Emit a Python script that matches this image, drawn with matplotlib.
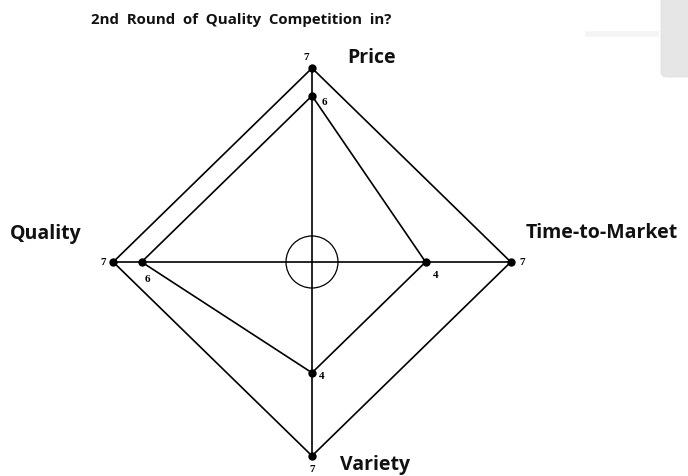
import numpy as np
import matplotlib
matplotlib.use("Agg")
import matplotlib.pyplot as plt
from matplotlib.patches import Ellipse, FancyBboxPatch

# ---- data ----
AXES = ["Price", "Time-to-Market", "Variety", "Quality"]
OUTER = [7, 7, 7, 7]
INNER = [6, 4, 4, 6]
TITLE = "2nd  Round  of  Quality  Competition  in?"

W, H = 688, 477
CX, CY = 312, 263      # centre in pixels
SX, SY = 28.4, 27.7    # pixels per unit

fig = plt.figure(figsize=(W / 100, H / 100), dpi=100)
ax = fig.add_axes([0, 0, 1, 1])
ax.set_xlim(-CX / SX, (W - CX) / SX)
ax.set_ylim(-(H - CY) / SY, CY / SY)
ax.axis("off")

# direction of each axis (up, right, down, left)
dirs = np.array([[0, 1], [1, 0], [0, -1], [-1, 0]])

def pts(vals):
    v = np.asarray(vals, float)[:, None]
    return dirs * v

out = pts(OUTER)
inn = pts(INNER)

kw = dict(color="black", lw=1.2)
# cross axes
ax.plot([out[3, 0], out[1, 0]], [0, 0], **kw)
ax.plot([0, 0], [out[2, 1], out[0, 1]], **kw)
# polygons
ax.plot(np.r_[out[:, 0], out[0, 0]], np.r_[out[:, 1], out[0, 1]], **kw)
ax.plot(np.r_[inn[:, 0], inn[0, 0]], np.r_[inn[:, 1], inn[0, 1]], **kw)
ax.plot(out[:, 0], out[:, 1], "o", color="black", ms=5)
ax.plot(inn[:, 0], inn[:, 1], "o", color="black", ms=5)

# small centre ring (~26 px radius)
ax.add_patch(Ellipse((0, 0), 2 * 26 / SX, 2 * 26 / SY,
                     fill=False, color="black", lw=0.9))

# value labels (offsets in points)
num = dict(family="Liberation Serif", weight="bold", fontsize=8, color="black")
out_off = [(-4, 8), (8, 0), (0, -9), (-7, 0)]
inn_off = [(9, -4), (7, -9), (7, -2), (4, -12)]
for p, v, o in zip(out, OUTER, out_off):
    ax.annotate(str(v), p, xytext=o, textcoords="offset points",
                ha="center", va="center", **num)
for p, v, o in zip(inn, INNER, inn_off):
    ax.annotate(str(v), p, xytext=o, textcoords="offset points",
                ha="center", va="center", **num)

# axis names
lab = dict(family="Open Sans", weight="bold", fontsize=14, color="#111111")
lab_pos = [(372, 58), (602, 233), (375, 465), (46, 234)]
for name, (px, py) in zip(AXES, lab_pos):
    fig.text(px / W, 1 - py / H, name, ha="center", va="center", **lab)

fig.text(241 / W, 1 - 20 / H, TITLE, ha="center", va="center",
         family="Open Sans", weight="bold", fontsize=10.8, color="#111111")

# faint panel at the top right
fig.patches.append(FancyBboxPatch((661 / W, 1 - 78 / H), 40 / W, 90 / H,
                                  boxstyle="round,pad=0,rounding_size=0.01",
                                  transform=fig.transFigure, fc="#e6e6e6",
                                  ec="#dcdcdc", lw=0.5))
fig.lines.append(plt.Line2D([588 / W, 656 / W], [1 - 35 / H, 1 - 35 / H],
                            transform=fig.transFigure, color="#f4f4f4", lw=4))

fig.savefig("out.png", dpi=100)
